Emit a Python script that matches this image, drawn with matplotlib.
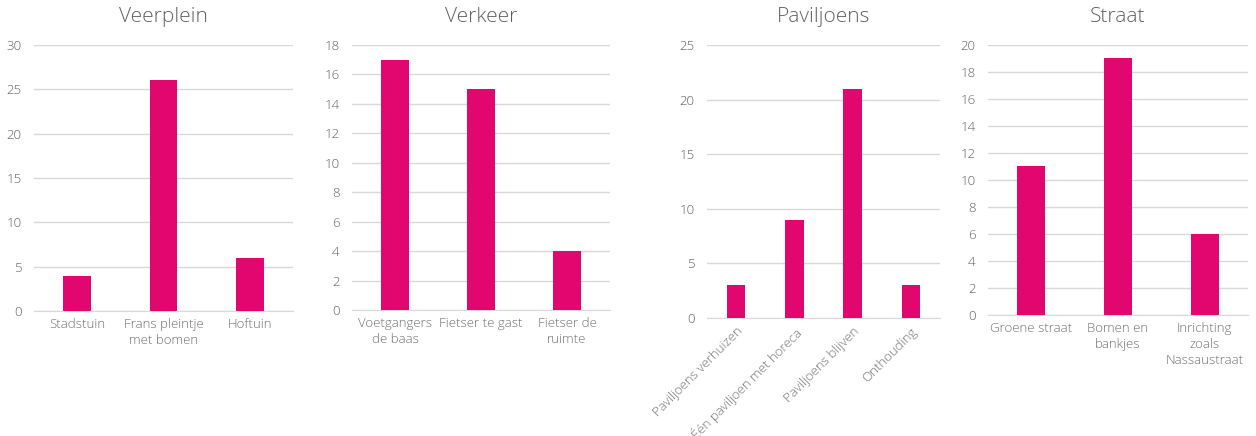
import matplotlib
matplotlib.use('Agg')
import matplotlib.pyplot as plt

plt.rcParams['font.family'] = ['Open Sans', 'DejaVu Sans']

# data per panel
veer_labels = ['Stadstuin', 'Frans pleintje\nmet bomen', 'Hoftuin']
veer_values = [4, 26, 6]

verkeer_labels = ['Voetgangers\nde baas', 'Fietser te gast', 'Fietser de\nruimte']
verkeer_values = [17, 15, 4]

pav_labels = ['Paviljoens verhuizen', 'Één paviljoen met horeca', 'Paviljoens blijven', 'Onthouding']
pav_values = [3, 9, 21, 3]

straat_labels = ['Groene straat', 'Bomen en\nbankjes', 'Inrichting\nzoals\nNassaustraat']
straat_values = [11, 19, 6]

titles = ['Veerplein', 'Verkeer', 'Paviljoens', 'Straat']
ymax = [30, 18, 25, 20]
ystep = [5, 2, 5, 2]

W, H = 1256, 436
# pixel boxes: left, right, top, zero line
boxes = [(34, 293, 45, 311), (352, 610, 45, 310), (707, 940, 45, 318), (988, 1248, 45, 315)]

bar_color = '#E2066F'
grid_color = '#D9D9D9'
text_color = '#606060'
label_color = '#707070'

fig = plt.figure(figsize=(W / 100, H / 100), dpi=100)

panels = [(veer_labels, veer_values), (verkeer_labels, verkeer_values),
          (pav_labels, pav_values), (straat_labels, straat_values)]

for i, (labels, values) in enumerate(panels):
    l, r, t, b = boxes[i]
    ax = fig.add_axes([l / W, (H - b) / H, (r - l) / W, (b - t) / H])
    x = list(range(len(values)))
    ax.bar(x, values, width=0.32, color=bar_color, zorder=3)
    ax.set_xlim(-0.5, len(values) - 0.5)
    ax.set_ylim(0, ymax[i])
    ax.set_yticks(range(0, ymax[i] + 1, ystep[i]))
    ax.yaxis.grid(True, color=grid_color, linewidth=1)
    ax.set_axisbelow(True)
    for s in ['top', 'right', 'left']:
        ax.spines[s].set_visible(False)
    ax.spines['bottom'].set_color(grid_color)
    ax.tick_params(axis='y', length=0, labelsize=9.5, colors=text_color, pad=9)
    ax.tick_params(axis='x', length=0, labelsize=9.5, colors=label_color, pad=5)
    ax.set_xticks(x)
    if i == 2:
        ax.set_xticklabels(labels, rotation=45, ha='right', rotation_mode='anchor',
                           fontweight='light')
        ax.tick_params(axis='x', pad=5)
    else:
        ax.set_xticklabels(labels, linespacing=1.3, fontweight='light')
    for lab in ax.get_yticklabels():
        lab.set_fontweight('light')
    # title centred around pixel row 17
    ax.set_title(titles[i], fontsize=15, color=text_color, fontweight='light',
                 y=1 + 28 / (b - t), va='center', pad=0)

fig.savefig('out.png', dpi=100)
